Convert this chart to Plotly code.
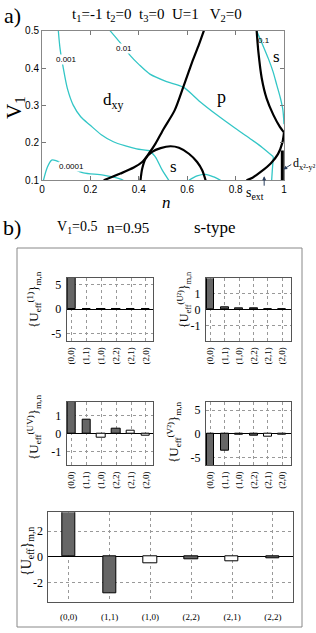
import plotly.graph_objects as go

W, H = 316, 633

# ---------------- panel a: curves (n, V1) ----------------
bound_A_n = [0.255, 0.324, 0.379, 0.414, 0.441, 0.469, 0.503, 0.548, 0.584, 0.606, 0.625, 0.648, 0.669]
bound_A_v = [0.100, 0.118, 0.134, 0.149, 0.171, 0.198, 0.238, 0.287, 0.350, 0.390, 0.424, 0.462, 0.500]

dome_n = [0.407, 0.414, 0.428, 0.455, 0.490, 0.531, 0.566, 0.607, 0.641, 0.662, 0.676]
dome_v = [0.100, 0.131, 0.158, 0.176, 0.186, 0.191, 0.187, 0.171, 0.149, 0.127, 0.100]

right_up_n = [0.887, 0.894, 0.908, 0.928, 0.956, 0.983, 1.000]
right_up_v = [0.500, 0.444, 0.373, 0.319, 0.275, 0.243, 0.228]
right_lo_n = [1.000, 0.993, 0.975, 0.945, 0.905, 0.870, 0.845]
right_lo_v = [0.228, 0.200, 0.170, 0.145, 0.123, 0.107, 0.100]
dx2_n = [0.993, 0.993]
dx2_v = [0.100, 0.180]

c0001_n = [0.006, 0.022, 0.040, 0.060, 0.090, 0.130, 0.171, 0.253, 0.322, 0.336]
c0001_v = [0.100, 0.135, 0.154, 0.152, 0.143, 0.130, 0.120, 0.114, 0.104, 0.100]

c001_n = [0.0675, 0.075, 0.088, 0.105, 0.129, 0.160, 0.198, 0.245, 0.295, 0.345, 0.391, 0.446]
c001_v = [0.500, 0.450, 0.400, 0.345, 0.301, 0.270, 0.248, 0.222, 0.203, 0.192, 0.184, 0.179]
c001b_n = [0.446, 0.469, 0.497, 0.524]
c001b_v = [0.179, 0.162, 0.127, 0.100]

c01_n = [0.281, 0.310, 0.340, 0.364, 0.400, 0.446, 0.515, 0.584, 0.653, 0.722, 0.790, 0.859, 0.910, 0.956]
c01_v = [0.500, 0.478, 0.455, 0.434, 0.410, 0.384, 0.364, 0.349, 0.310, 0.275, 0.243, 0.212, 0.188, 0.163]
c01b_n = [0.956, 0.952, 0.949]
c01b_v = [0.163, 0.130, 0.100]

c1_n = [0.887, 0.910, 0.935, 0.955, 0.970, 0.985, 0.995, 1.000]
c1_v = [0.500, 0.465, 0.426, 0.390, 0.355, 0.320, 0.290, 0.250]

bump_n = [0.607, 0.641, 0.676, 0.710, 0.738]
bump_v = [0.100, 0.112, 0.116, 0.109, 0.100]

n_ticks = [0, 0.2, 0.4, 0.6, 0.8, 1]
n_ticklabels = ["0", "0.2", "0.4", "0.6", "0.8", "1"]
v_ticks = [0.1, 0.2, 0.3, 0.4, 0.5]
v_ticklabels = ["0.1", "0.2", "0.3", "0.4", "0.5"]

# ---------------- panel b: bar values ----------------
cat_small = ["(0,0)", "(1,1)", "(1,0)", "(2,2)", "(2,1)", "(2,0)"]
cat_bottom = ["(0,0)", "(1,1)", "(1,0)", "(2,2)", "(2,1)", "(2,2)"]
U_1 = [7.0, 0.0, 0.0, 0.0, 0.0, 0.0]
U_U2 = [2.5, 0.12, 0.04, 0.04, 0.0, 0.03]
U_UV = [2.2, 0.80, -0.21, 0.28, 0.15, -0.10]
U_V2 = [-7.5, -3.5, -0.25, -0.45, -0.50, -0.10]
U_eff = [4.0, -2.86, -0.52, -0.20, -0.36, -0.12]

GRAY, WHITE = "#666666", "#ffffff"
col_small = [GRAY, GRAY, WHITE, GRAY, WHITE, WHITE]
col_mr = [GRAY, GRAY, GRAY, GRAY, WHITE, WHITE]
col_bottom = [GRAY, GRAY, WHITE, GRAY, WHITE, GRAY]

SERIF = "Liberation Serif, DejaVu Serif, serif"
SANS = "Liberation Sans, Arial, sans-serif"
CYAN = "#33c6c6"


def dom_x(a, b):
    return [a / W, b / W]


def dom_y(t, b):
    return [1 - b / H, 1 - t / H]


fig = go.Figure()


def line(xs, ys, color, width):
    fig.add_trace(go.Scatter(x=xs, y=ys, mode="lines", xaxis="x", yaxis="y",
                             line=dict(color=color, width=width, shape="spline", smoothing=0.8),
                             showlegend=False, hoverinfo="skip"))


for xs, ys in [(c0001_n, c0001_v), (c001_n, c001_v), (c001b_n, c001b_v), (c01_n, c01_v),
               (c01b_n, c01b_v), (c1_n, c1_v), (bump_n, bump_v)]:
    line(xs, ys, CYAN, 1.3)
for xs, ys in [(bound_A_n, bound_A_v), (dome_n, dome_v), (right_up_n, right_up_v),
               (right_lo_n, right_lo_v)]:
    line(xs, ys, "black", 2.2)
line(dx2_n, dx2_v, "black", 3)

# bar panels
xs6 = [1, 2, 3, 4, 5, 6]
panels = [
    (2, U_1, col_small, 0.55),
    (3, U_U2, col_small, 0.55),
    (4, U_UV, col_small, 0.55),
    (5, U_V2, col_mr, 0.55),
    (6, U_eff, col_bottom, 0.33),
]
for k, vals, cols, wd in panels:
    fig.add_trace(go.Bar(x=xs6, y=vals, width=wd, xaxis=f"x{k}", yaxis=f"y{k}",
                         marker=dict(color=cols, line=dict(color="black", width=1)),
                         showlegend=False, hoverinfo="skip"))

layout = dict(width=W, height=H, margin=dict(l=0, r=0, t=0, b=0), autosize=False,
              paper_bgcolor="white", plot_bgcolor="white", bargap=0)

layout["xaxis"] = dict(domain=dom_x(42, 284), range=[0, 1], tickvals=n_ticks, ticktext=n_ticklabels,
                       ticks="inside", ticklen=4, tickcolor="#777", mirror="allticks", showline=True,
                       linecolor="#888", linewidth=1, showgrid=False, zeroline=False,
                       automargin=False,
                       tickfont=dict(family=SANS, size=10, color="black"), anchor="y")
layout["yaxis"] = dict(domain=dom_y(30.7, 180.3), range=[0.1, 0.5], tickvals=v_ticks,
                       ticktext=v_ticklabels, ticks="inside", ticklen=4, tickcolor="#777",
                       mirror="allticks", showline=True, linecolor="#888", linewidth=1,
                       showgrid=False, zeroline=False, automargin=False,
                       tickfont=dict(family=SANS, size=10, color="black"), anchor="x")

# small axes geometry (px): left, right, top, bottom, xrange, yrange, yticks
geo = {
    2: (66.7, 152.7, 278.0, 340.7, [0.68, 6.45], [-6.35, 6.27], [-5, 0, 5]),
    3: (206.0, 291.0, 278.3, 340.7, [0.69, 6.6], [-1.96, 1.94], [-1, 0, 1]),
    4: (66.7, 152.7, 401.7, 465.0, [0.68, 6.45], [-1.75, 1.79], [-1, 0, 1]),
    5: (206.0, 291.0, 401.7, 465.0, [0.69, 6.6], [-6.53, 6.74], [-5, 0, 5]),
    6: (48.3, 293.3, 512.3, 601.7, [0.5, 6.5], [-3.5, 3.46], [-2, 0, 2]),
}
for k, (l, r, t, b, xr, yr, yt) in geo.items():
    small = k != 6
    layout[f"xaxis{k}"] = dict(domain=dom_x(l, r), range=xr, anchor=f"y{k}", tickvals=xs6,
                               ticktext=cat_small if small else cat_bottom,
                               tickangle=-90 if small else 0, showline=True, mirror=True,
                               linecolor="#555", linewidth=1, showgrid=True, gridcolor="#999",
                               griddash="dot", gridwidth=1, zeroline=False, ticks="",
                               ticklabelstandoff=2 if small else 6, automargin=False,
                               tickfont=dict(family=SERIF, size=9, color="black"))
    layout[f"yaxis{k}"] = dict(domain=dom_y(t, b), range=yr, anchor=f"x{k}", tickvals=yt,
                               ticktext=[str(v) for v in yt], showline=True, mirror=True,
                               linecolor="#555", linewidth=1, showgrid=True, gridcolor="#999",
                               griddash="dot", gridwidth=1, zeroline=True, zerolinecolor="black",
                               zerolinewidth=1, ticks="", ticklabelstandoff=2, automargin=False,
                               tickfont=dict(family=SERIF, size=12, color="black"))

anns = []


def pann(text, px, py, size, angle=0, family=SERIF, xanchor="center"):
    anns.append(dict(text=text, x=px / W, y=1 - py / H, xref="paper", yref="paper",
                     showarrow=False, textangle=angle, xanchor=xanchor, yanchor="middle",
                     font=dict(family=family, size=size, color="black")))


def dann(text, xv, yv, size, bg=None, family=SERIF):
    d = dict(text=text, x=xv, y=yv, xref="x", yref="y", showarrow=False,
             font=dict(family=family, size=size, color="black"), borderpad=0)
    if bg:
        d["bgcolor"] = bg
    anns.append(d)


pann("a)", 12, 15, 22)
pann("t<sub>1</sub>=-1 t<sub>2</sub>=0  t<sub>3</sub>=0  U=1   V<sub>2</sub>=0", 157, 15, 15)
pann("V<sub>1</sub>", 15, 108, 21, angle=-90)
pann("<i>n</i>", 166, 202, 17)
pann("b)", 12, 227, 22)
pann("V<sub>1</sub>=0.5", 77, 228, 14)
pann("n=0.95", 128, 228, 15)
pann("s-type", 215, 227, 17)

dann("0.001", 0.102, 0.4235, 8, bg="white", family=SANS)
dann("0.01", 0.339, 0.4535, 8, bg="white", family=SANS)
dann("0.0001", 0.123, 0.136, 8, bg="white", family=SANS)
dann("0.1", 0.918, 0.473, 8, family=SANS)
dann("d<sub>xy</sub>", 0.293, 0.312, 17)
dann("p", 0.742, 0.323, 18)
dann("s", 0.543, 0.136, 17)
dann("s", 0.970, 0.430, 17)

# arrows
anns.append(dict(text="d<sub>x²-y²</sub>", x=0.997, y=0.129, xref="x", yref="y", showarrow=True,
                 ax=8, ay=-5, arrowhead=2, arrowsize=0.8, arrowwidth=1, xanchor="left",
                 font=dict(family=SERIF, size=12, color="black")))
anns.append(dict(text=" ", x=0.918, y=0.111, xref="x", yref="y", showarrow=True,
                 ax=0, ay=14, arrowhead=2, arrowsize=0.8, arrowwidth=1,
                 font=dict(family=SERIF, size=6, color="black")))
pann("s<sub>ext</sub>", 255, 193, 14)

# y labels of bar panels
pann("{U<sub>eff</sub><sup>(1)</sup>}<sub>m,n</sub>", 34, 300, 13, angle=-90)
pann("{U<sub>eff</sub><sup>(U²)</sup>}<sub>m,n</sub>", 184, 300, 12, angle=-90)
pann("{U<sub>eff</sub><sup>(UV)</sup>}<sub>m,n</sub>", 34, 428, 13, angle=-90)
pann("{U<sub>eff</sub><sup>(V²)</sup>}<sub>m,n</sub>", 174, 432, 13, angle=-90)
pann("{U<sub>eff</sub>}<sub>m,n</sub>", 27, 552, 14, angle=-90)

layout["annotations"] = anns
layout["shapes"] = [dict(type="rect", xref="paper", yref="paper", x0=17 / W, x1=302 / W,
                         y0=1 - 627 / H, y1=1 - 248 / H, line=dict(color="#888", width=1))]

fig.update_layout(**layout)
fig.write_html("out.html", config={"displayModeBar": False},
               post_script="document.body.style.margin='0px';document.body.style.padding='0px';")
